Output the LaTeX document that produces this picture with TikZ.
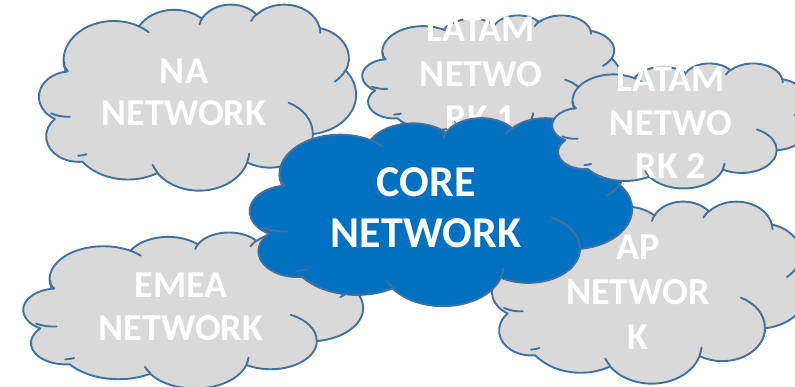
\documentclass[tikz,border=0pt]{standalone}
\usepackage{fontspec}
\setmainfont{Carlito}
\definecolor{cloudline}{HTML}{41719C}
\definecolor{cloudgray}{HTML}{D9D9D9}
\definecolor{coreblue}{HTML}{0070C0}
% OOXML-style arcTo: radii wR hR, visual start angle, visual sweep (degrees)
\newcommand\ooarc[4]{arc[start angle={atan2((#1)*sin(#3),(#2)*cos(#3))}, delta angle={mod(atan2((#1)*sin((#3)+(#4)),(#2)*cos((#3)+(#4)))-atan2((#1)*sin(#3),(#2)*cos(#3))+720,360)}, x radius=#1, y radius=#2]}
\tikzset{
  cloudbody/.style={draw=cloudline, line width=1.9pt, line join=round},
  cloudinner/.style={draw=cloudline, line width=1.9pt, line cap=round},
  cloudtext/.style={text=white, inner sep=0pt, align=center, anchor=center},
}
\newcommand\cloudshape[5]{%
\begin{scope}[x={({#3/432*1pt},0pt)}, y={(0pt,{-#4/432*1pt})}, shift={({#1*1pt},{-#2*1pt})}]
  \path[cloudbody, fill=#5] (39.00,143.70)
    \ooarc{67.53}{91.90}{-190.4875}{123.7805}
    \ooarc{53.33}{72.67}{-144.1024}{89.9452}
    \ooarc{43.65}{59.45}{-145.8079}{99.7230}
    \ooarc{48.57}{65.95}{-130.9861}{117.2417}
    \ooarc{53.33}{72.73}{-78.7089}{109.0269}
    \ooarc{67.75}{92.20}{-46.2673}{130.2690}
    \ooarc{57.85}{78.67}{0.6250}{114.0333}
    \ooarc{67.52}{92.15}{22.4516}{115.1726}
    \ooarc{77.20}{105.43}{66.2426}{67.6069}
    \ooarc{43.60}{59.18}{-274.9421}{146.7356}
    \ooarc{43.45}{59.45}{-246.8285}{152.5189}
    -- cycle;
  \path[cloudinner]
    (46.93,261.77) \ooarc{43.45}{59.45}{86.7420}{26.4295}
    (69.28,348.99) \ooarc{43.60}{59.18}{73.6105}{11.4475}
    (164.78,390.90) \ooarc{67.52}{92.15}{137.6242}{14.0811}
    (288.27,347.51) \ooarc{67.52}{92.15}{6.4533}{15.9984}
    (341.29,229.54) \ooarc{57.85}{78.67}{-70.2924}{70.9174}
    (417.98,153.54) \ooarc{53.33}{72.73}{30.3180}{27.7515}
    (383.24,54.26) \ooarc{48.57}{65.95}{-13.7443}{14.8589}
    (290.78,39.52) \ooarc{48.57}{65.95}{-149.1815}{18.1954}
    (221.41,47.20) \ooarc{43.65}{59.45}{-163.4943}{17.6864}
    (140.00,51.92) \ooarc{67.53}{91.90}{-66.7070}{12.3194}
    (41.27,157.89) \ooarc{67.53}{91.90}{162.0496}{19.4733};
\end{scope}}
\begin{document}
\begin{tikzpicture}
\useasboundingbox (0pt,0pt) rectangle (795pt,-386pt);
\clip (0pt,0pt) rectangle (795pt,-386pt);
% NA
\cloudshape{35}{4}{321}{186}{cloudgray}
\node[cloudtext, font=\fontsize{38}{42}\selectfont\bfseries] (na) at (184pt,-92pt) {NA\\NETWORK};
% LATAM 1
\cloudshape{359}{15}{261}{122}{cloudgray}
\node[cloudtext, font=\fontsize{38}{44.5}\selectfont\bfseries] (latam1) at (481pt,-74pt) {LATAM\\NETWO\\RK 1};
% EMEA
\cloudshape{19}{232}{344}{156}{cloudgray}
\node[cloudtext, font=\fontsize{38}{42.5}\selectfont\bfseries] (emea) at (181pt,-307pt) {EMEA\\NETWORK};
% AP
\cloudshape{488}{201}{320}{182}{cloudgray}
\node[cloudtext, font=\fontsize{38}{45}\selectfont\bfseries] (ap) at (638pt,-292pt) {AP\\NETWOR\\K};
% CORE
\cloudshape{245}{117.5}{387}{188}{coreblue}
\node[cloudtext, font=\fontsize{44}{51}\selectfont\bfseries] (core) at (426pt,-208pt) {CORE\\NETWORK};
% LATAM 2
\cloudshape{549}{63}{263}{125}{cloudgray}
\node[cloudtext, font=\fontsize{38}{43.5}\selectfont\bfseries] (latam2) at (671pt,-123pt) {LATAM\\NETWO\\RK 2};
\end{tikzpicture}
\end{document}
